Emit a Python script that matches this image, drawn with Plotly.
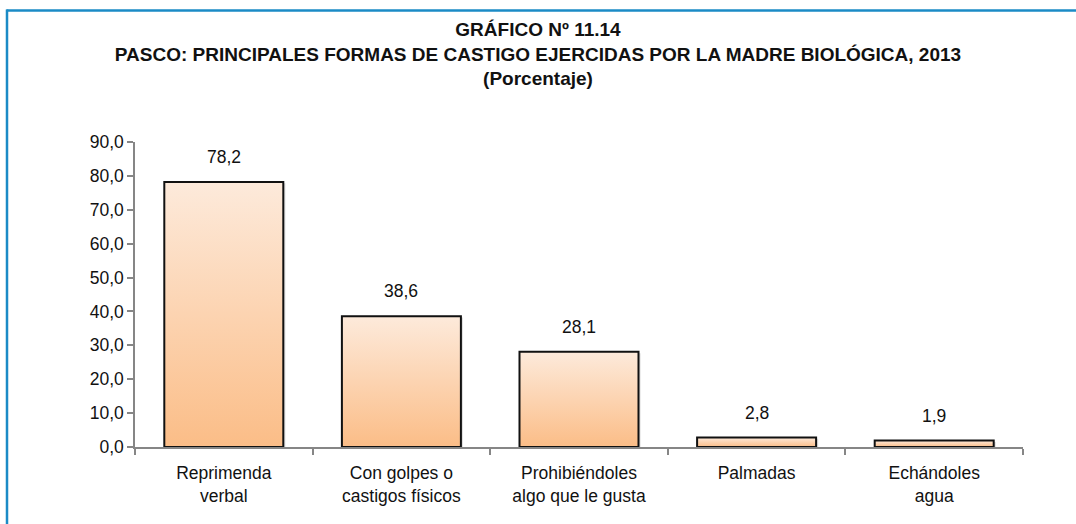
import plotly.graph_objects as go

# ---- data ----
categories = ["Reprimenda<br>verbal", "Con golpes o<br>castigos físicos",
              "Prohibiéndoles<br>algo que le gusta", "Palmadas", "Echándoles<br>agua"]
values = [78.2, 38.6, 28.1, 2.8, 1.9]
y_ticks = [0, 10, 20, 30, 40, 50, 60, 70, 80, 90]

title_lines = ["GRÁFICO Nº 11.14",
               "PASCO: PRINCIPALES FORMAS DE CASTIGO EJERCIDAS POR LA MADRE BIOLÓGICA, 2013",
               "(Porcentaje)"]

# ---- style ----
FONT = "Liberation Sans, Arial, sans-serif"
FS = 17.5
BAR_W = 0.67
GRAD = [[0.0, "#fbbd87"], [1.0, "#fdeadb"]]
AXIS_COL = "#868686"
BORDER_COL = "#1b8bc6"

fig = go.Figure()

n = len(categories)
for i, v in enumerate(values):
    x0, x1 = i - BAR_W / 2, i + BAR_W / 2
    # soft shadow
    fig.add_trace(go.Scatter(
        x=[x0 + 0.012, x0 + 0.012, x1 + 0.012, x1 + 0.012, x0 + 0.012],
        y=[0, v - 0.4, v - 0.4, 0, 0],
        fill="toself", mode="lines", line=dict(width=0),
        fillcolor="rgba(0,0,0,0.12)", hoverinfo="skip", showlegend=False))
    fig.add_trace(go.Scatter(
        x=[x0, x0, x1, x1, x0], y=[0, v, v, 0, 0],
        fill="toself", mode="lines",
        line=dict(color="#111111", width=2),
        fillgradient=dict(type="vertical", colorscale=GRAD),
        hoverinfo="skip", showlegend=False))
    fig.add_annotation(x=i, y=v, text=f"{v:.1f}".replace(".", ","),
                       showarrow=False, yanchor="bottom", yshift=13,
                       font=dict(family=FONT, size=FS, color="#111111"))

# border frame (top + left blue lines)
plot_l, plot_r, plot_t, plot_b = 135, 1023, 142, 447
W, H = 1076, 524
pw, ph = plot_r - plot_l, plot_b - plot_t
def px_x(p):
    return (p - plot_l) / pw
def px_y(p):
    return (plot_b - p) / ph
fig.add_shape(type="line", xref="paper", yref="paper",
              x0=px_x(6.5), x1=px_x(W + 5), y0=px_y(10.5), y1=px_y(10.5),
              line=dict(color=BORDER_COL, width=2.5))
fig.add_shape(type="line", xref="paper", yref="paper",
              x0=px_x(7), x1=px_x(7), y0=px_y(9.5), y1=px_y(H + 5),
              line=dict(color=BORDER_COL, width=2.5))

fig.update_layout(
    width=W, height=H,
    margin=dict(l=plot_l, r=W - plot_r, t=plot_t, b=H - plot_b),
    paper_bgcolor="white", plot_bgcolor="white",
    separators=",.",
    font=dict(family=FONT, size=FS, color="#111111"),
    title=dict(text="<br>".join(title_lines), x=0.5, xanchor="center",
               y=1 - 36 / H, yanchor="top",
               font=dict(family=FONT, size=19, color="#111111", weight="bold")),
    xaxis=dict(range=[-0.5, n - 0.5], tickmode="array",
               tickvals=list(range(n)), ticktext=categories,
               ticks="", showgrid=False, zeroline=False,
               showline=True, linecolor=AXIS_COL, linewidth=1.5,
               ticklabelstandoff=9,
               minor=dict(tickmode="array",
                          tickvals=[k - 0.5 for k in range(n + 1)],
                          ticks="outside", ticklen=6, tickcolor=AXIS_COL,
                          tickwidth=1.5, showgrid=False),
               tickfont=dict(family=FONT, size=FS, color="#111111"),
               fixedrange=True),
    yaxis=dict(range=[0, 90], tickmode="array", tickvals=y_ticks,
               tickformat=".1f", ticks="outside", ticklen=6,
               tickcolor=AXIS_COL, tickwidth=1.5,
               showline=True, linecolor=AXIS_COL, linewidth=1.5,
               showgrid=False, zeroline=False,
               tickfont=dict(family=FONT, size=FS, color="#111111"),
               fixedrange=True),
)

fig.write_html("out.html", config={"displayModeBar": False},
               post_script="document.body.style.margin='0';")
